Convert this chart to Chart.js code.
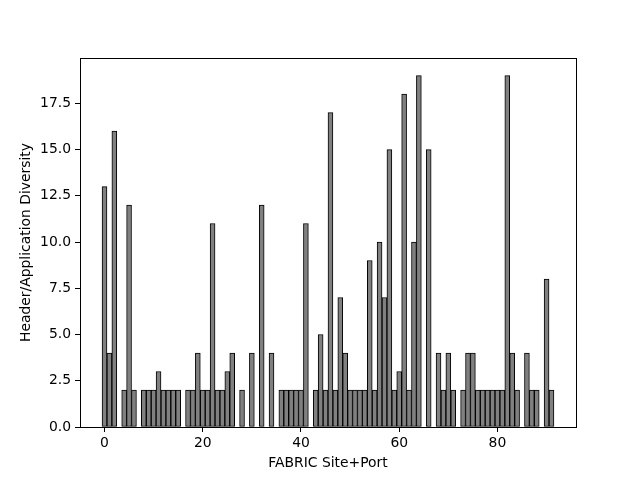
<!DOCTYPE html>
<html>
<head>
<meta charset="utf-8">
<script src="https://cdn.jsdelivr.net/npm/chart.js@4/dist/chart.umd.min.js"></script>
<style>
html,body{margin:0;padding:0;background:#fff;}
canvas{display:block;}
</style>
</head>
<body>
<canvas id="c" width="640" height="480"></canvas>
<script>
// Data
const sites = Array.from({length: 92}, (_, i) => i);
const diversity = [
  13, 4, 16, 0, 2, 12, 2, 0, 2, 2,
  2, 3, 2, 2, 2, 2, 0, 2, 2, 4,
  2, 2, 11, 2, 2, 3, 4, 0, 2, 0,
  4, 0, 12, 0, 4, 0, 2, 2, 2, 2,
  2, 11, 0, 2, 5, 2, 17, 2, 7, 4,
  2, 2, 2, 2, 9, 2, 10, 7, 15, 2,
  3, 18, 2, 10, 19, 0, 15, 0, 4, 2,
  4, 2, 0, 2, 4, 4, 2, 2, 2, 2,
  2, 2, 19, 4, 2, 0, 4, 2, 2, 0,
  8, 2
];
const xTicks = [0, 20, 40, 60, 80];
const yTicks = [0, 2.5, 5, 7.5, 10, 12.5, 15, 17.5];

const FONT = "'DejaVu Sans', sans-serif";
const FS = 13.9;

const boxPlugin = {
  id: 'box',
  afterDraw(chart) {
    const {ctx, chartArea: a} = chart;
    ctx.save();
    ctx.strokeStyle = '#000';
    ctx.lineWidth = 1;
    ctx.strokeRect(Math.round(a.left) + 0.5, Math.round(a.top) + 0.5,
                   Math.round(a.right - a.left), Math.round(a.bottom - a.top));
    ctx.restore();
  }
};

new Chart(document.getElementById('c'), {
  type: 'bar',
  data: {
    datasets: [{
      data: sites.map((s, i) => ({x: s, y: diversity[i]})),
      backgroundColor: '#808080',
      borderColor: '#000',
      borderWidth: 1,
      borderSkipped: false,
      barPercentage: 1.0,
      categoryPercentage: 1.0
    }]
  },
  options: {
    responsive: false,
    animation: false,
    devicePixelRatio: 1,
    layout: {padding: {top: 58, right: 64, left: 0, bottom: 0}},
    plugins: {legend: {display: false}, tooltip: {enabled: false}},
    scales: {
      x: {
        type: 'linear',
        offset: false,
        min: -4.99,
        max: 95.99,
        afterBuildTicks(scale) { scale.ticks = xTicks.map(v => ({value: v})); },
        afterFit(scale) { scale.height = 53; },
        grid: {display: true, offset: false, drawOnChartArea: false, tickLength: 5, color: '#000', tickColor: '#000'},
        border: {display: true, color: '#000', width: 1},
        ticks: {color: '#000', font: {family: FONT, size: FS}, padding: 3, maxRotation: 0,
                callback: v => String(v)},
        title: {display: true, text: 'FABRIC Site+Port', color: '#000',
                font: {family: FONT, size: FS}, padding: {top: 2, bottom: 8}}
      },
      y: {
        min: 0,
        max: 19.95,
        afterBuildTicks(scale) { scale.ticks = yTicks.map(v => ({value: v})); },
        afterFit(scale) { scale.width = 80; },
        grid: {display: true, offset: false, drawOnChartArea: false, tickLength: 5, color: '#000', tickColor: '#000'},
        border: {display: true, color: '#000', width: 1},
        ticks: {color: '#000', font: {family: FONT, size: FS}, padding: 4,
                callback: v => Number(v).toFixed(1)},
        title: {display: true, text: 'Header/Application Diversity', color: '#000',
                font: {family: FONT, size: FS}, padding: {top: 18, bottom: 4}}
      }
    }
  },
  plugins: [boxPlugin]
});
</script>
</body>
</html>
